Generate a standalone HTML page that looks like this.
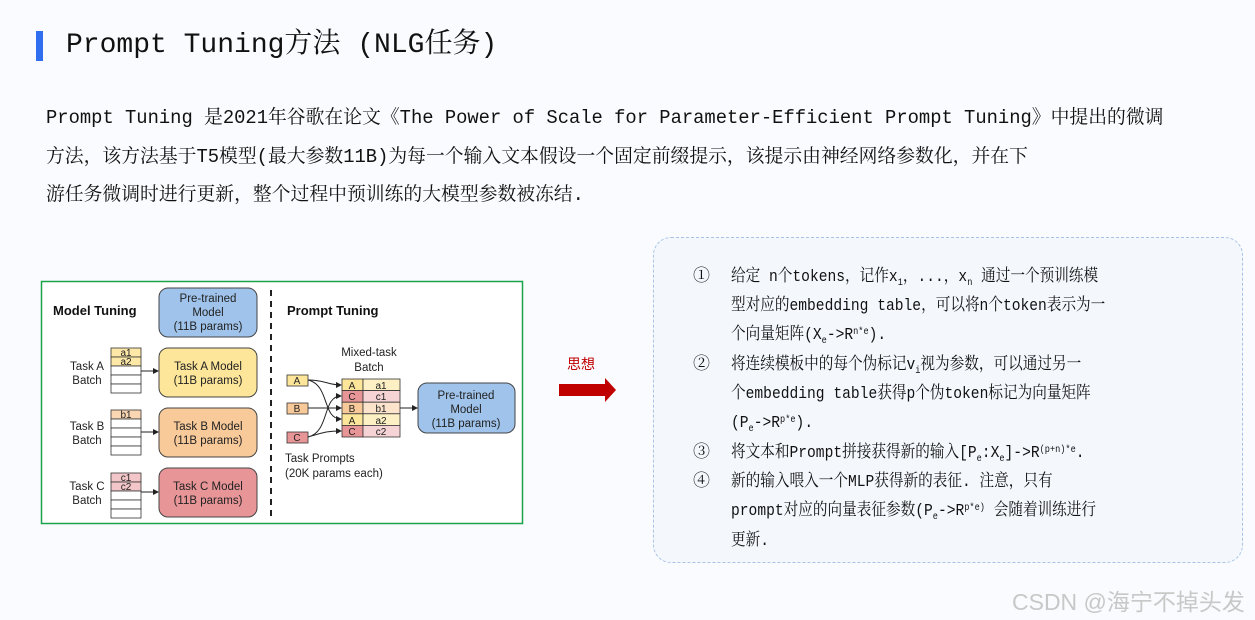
<!DOCTYPE html>
<html><head><meta charset="utf-8"><style>
body{margin:0;width:1255px;height:620px;background:#f9fbfe;position:relative;overflow:hidden;font-family:"Liberation Mono","Noto Serif CJK SC",monospace;color:#111}
.a{position:absolute;white-space:nowrap}
.bar{position:absolute;left:36px;top:31px;width:7px;height:30px;background:#2f6fef}
.t{left:66px;top:28px;font-size:28px;line-height:36px}
.p{left:46px;font-size:19px;line-height:24px;transform:scaleX(0.99);transform-origin:left}
.box{position:absolute;left:653px;top:237px;width:588px;height:324px;border:1.5px dashed #a9c3e6;border-radius:18px;background:#f4f8fd}
.l{font-size:17px;line-height:22px;height:22px}
.s{transform:scaleX(0.86);transform-origin:left}
sub{font-size:10px;vertical-align:baseline;position:relative;top:4px;line-height:0}
sup{font-size:10px;vertical-align:baseline;position:relative;top:-5px;line-height:0}
</style></head><body>
<div class="bar"></div>
<div class="a t">Prompt Tuning方法 (NLG任务)</div>
<div class="a p" style="top:106px">Prompt Tuning 是2021年谷歌在论文《The Power of Scale for Parameter-Efficient Prompt Tuning》中提出的微调</div>
<div class="a p" style="top:145px">方法，该方法基于T5模型(最大参数11B)为每一个输入文本假设一个固定前缀提示，该提示由神经网络参数化，并在下</div>
<div class="a p" style="top:183px">游任务微调时进行更新，整个过程中预训练的大模型参数被冻结.</div>

<svg class="a" style="left:0;top:0" width="1255" height="620" font-family="Liberation Sans, sans-serif">
<rect x="41.5" y="281.5" width="481" height="242" fill="#fff" stroke="#1aa34a" stroke-width="1.5"/>
<g font-size="13" font-weight="bold" fill="#111"><text x="53" y="315">Model Tuning</text><text x="287" y="315">Prompt Tuning</text></g>
<line x1="271" y1="290" x2="271" y2="518" stroke="#222" stroke-width="2" stroke-dasharray="6,5"/>
<g stroke="#444" stroke-width="1">
<rect x="159" y="288" width="98" height="49" rx="9" fill="#9fc3ea"/>
<rect x="159" y="348" width="98" height="49" rx="9" fill="#fde69a"/>
<rect x="159" y="408" width="98" height="49" rx="9" fill="#f8c999"/>
<rect x="159" y="468" width="98" height="49" rx="9" fill="#e89598"/>
<rect x="418" y="383" width="97" height="50" rx="9" fill="#9fc3ea"/>
</g>
<g font-size="11.5" fill="#222" text-anchor="middle">
<text x="208" y="302">Pre-trained</text><text x="208" y="316">Model</text><text x="208" y="330">(11B params)</text>
<text x="208" y="370">Task A Model</text><text x="208" y="384">(11B params)</text>
<text x="208" y="430">Task B Model</text><text x="208" y="444">(11B params)</text>
<text x="208" y="490">Task C Model</text><text x="208" y="504">(11B params)</text>
<text x="466" y="399">Pre-trained</text><text x="466" y="413">Model</text><text x="466" y="427">(11B params)</text>
<text x="369" y="356">Mixed-task</text><text x="369" y="371">Batch</text>
<text x="87" y="370">Task A</text><text x="87" y="384">Batch</text>
<text x="87" y="430">Task B</text><text x="87" y="444">Batch</text>
<text x="87" y="490">Task C</text><text x="87" y="504">Batch</text>
</g>
<g font-size="11.5" fill="#222"><text x="285" y="462">Task Prompts</text><text x="285" y="477">(20K params each)</text></g>
<g stroke="#333" stroke-width="0.8" fill="#fff">
<rect x="111" y="348" width="30" height="9" fill="#fde8a8"/><rect x="111" y="357" width="30" height="9" fill="#fde8a8"/><rect x="111" y="366" width="30" height="9"/><rect x="111" y="375" width="30" height="9"/><rect x="111" y="384" width="30" height="9"/>
<rect x="111" y="410" width="30" height="9" fill="#fad6b3"/><rect x="111" y="419" width="30" height="9"/><rect x="111" y="428" width="30" height="9"/><rect x="111" y="437" width="30" height="9"/><rect x="111" y="446" width="30" height="9"/>
<rect x="111" y="473" width="30" height="9" fill="#f3c7c9"/><rect x="111" y="482" width="30" height="9" fill="#f3c7c9"/><rect x="111" y="491" width="30" height="9"/><rect x="111" y="500" width="30" height="9"/><rect x="111" y="509" width="30" height="9"/>
<rect x="287" y="375" width="21" height="11" fill="#fde69a"/><rect x="287" y="403" width="21" height="11" fill="#f8c999"/><rect x="287" y="432" width="21" height="11" fill="#e89598"/>
<rect x="342" y="379" width="21" height="11.6" fill="#fde69a"/><rect x="363" y="379" width="37" height="11.6" fill="#fdf0c4"/>
<rect x="342" y="390.6" width="21" height="11.6" fill="#e89598"/><rect x="363" y="390.6" width="37" height="11.6" fill="#f6d3d4"/>
<rect x="342" y="402.2" width="21" height="11.6" fill="#f8c999"/><rect x="363" y="402.2" width="37" height="11.6" fill="#fbe3cc"/>
<rect x="342" y="413.8" width="21" height="11.6" fill="#fde69a"/><rect x="363" y="413.8" width="37" height="11.6" fill="#fdf0c4"/>
<rect x="342" y="425.4" width="21" height="11.6" fill="#e89598"/><rect x="363" y="425.4" width="37" height="11.6" fill="#f6d3d4"/>
</g>
<g font-size="10" fill="#222" text-anchor="middle">
<text x="126" y="356">a1</text><text x="126" y="365">a2</text><text x="126" y="418">b1</text><text x="126" y="481">c1</text><text x="126" y="490">c2</text>
<text x="297" y="384">A</text><text x="297" y="412">B</text><text x="297" y="441">C</text>
<text x="352" y="389">A</text><text x="381" y="389">a1</text>
<text x="352" y="400">C</text><text x="381" y="400">c1</text>
<text x="352" y="412">B</text><text x="381" y="412">b1</text>
<text x="352" y="424">A</text><text x="381" y="424">a2</text>
<text x="352" y="435">C</text><text x="381" y="435">c2</text>
</g>
<defs><marker id="m" markerWidth="6" markerHeight="6" refX="5" refY="3" orient="auto"><path d="M0,0L6,3L0,6z" fill="#222"/></marker></defs>
<g stroke="#222" stroke-width="1" fill="none" marker-end="url(#m)">
<line x1="141" y1="371" x2="158" y2="371"/><line x1="141" y1="432" x2="158" y2="432"/><line x1="141" y1="492" x2="158" y2="492"/>
<line x1="400" y1="408" x2="417" y2="408"/>
<path d="M308,380 C325,380 328,385 341,385"/>
<path d="M308,380 C330,385 322,419 341,419"/>
<line x1="308" y1="408" x2="341" y2="408"/>
<path d="M308,437 C330,432 322,396 341,396"/>
<path d="M308,437 C325,432 328,431 341,431"/>
</g>
<text x="567" y="369" font-size="14" fill="#c00000" font-family="Noto Sans CJK SC, sans-serif">思想</text>
<path d="M559,384 H605 V378 L616,390 L605,402 V396 H559 Z" fill="#c00000"/>
</svg>

<div class="box"></div>
<div class="a l" style="left:693px;top:267px">①</div>
<div class="a l s" style="left:731px;top:267px">给定 n个tokens，记作x<sub>1</sub>，...，x<sub>n</sub> 通过一个预训练模</div>
<div class="a l s" style="left:731px;top:296px">型对应的embedding table，可以将n个token表示为一</div>
<div class="a l s" style="left:731px;top:325px">个向量矩阵(X<sub>e</sub>->R<sup>n*e</sup>).</div>
<div class="a l" style="left:693px;top:355px">②</div>
<div class="a l s" style="left:731px;top:355px">将连续模板中的每个伪标记v<sub>i</sub>视为参数，可以通过另一</div>
<div class="a l s" style="left:731px;top:384px">个embedding table获得p个伪token标记为向量矩阵</div>
<div class="a l s" style="left:731px;top:413px">(P<sub>e</sub>->R<sup>p*e</sup>).</div>
<div class="a l" style="left:693px;top:443px">③</div>
<div class="a l s" style="left:731px;top:443px">将文本和Prompt拼接获得新的输入[P<sub>e</sub>:X<sub>e</sub>]->R<sup>(p+n)*e</sup>.</div>
<div class="a l" style="left:693px;top:472px">④</div>
<div class="a l s" style="left:731px;top:472px">新的输入喂入一个MLP获得新的表征. 注意，只有</div>
<div class="a l s" style="left:731px;top:501px">prompt对应的向量表征参数(P<sub>e</sub>->R<sup>p*e)</sup> 会随着训练进行</div>
<div class="a l s" style="left:731px;top:531px">更新.</div>
<div class="a" style="left:1012px;top:583px;font-size:23px;color:#c8c8c8;font-family:'Liberation Sans','Noto Sans CJK SC',sans-serif">CSDN @海宁不掉头发</div>
</body></html>
